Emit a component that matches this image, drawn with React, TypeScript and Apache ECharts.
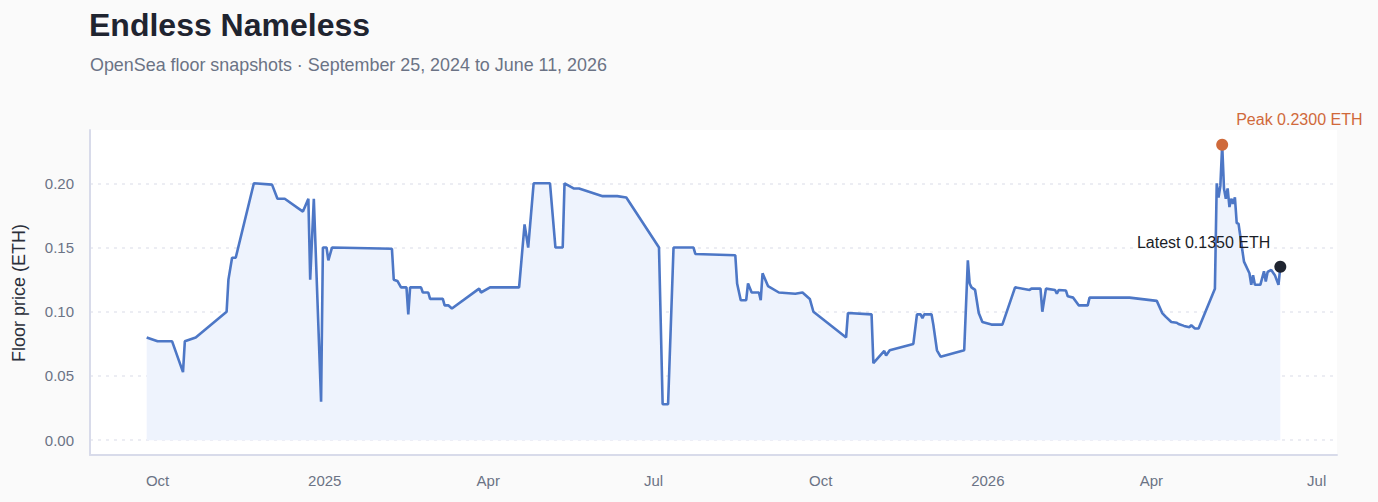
import React, { useEffect, useRef } from 'react';
import * as echarts from 'echarts';

const TITLE = 'Endless Nameless';
const SUBTITLE = 'OpenSea floor snapshots · September 25, 2024 to June 11, 2026';
const Y_NAME = 'Floor price (ETH)';
const MONTHS = ['Jan', 'Feb', 'Mar', 'Apr', 'May', 'Jun', 'Jul', 'Aug', 'Sep', 'Oct', 'Nov', 'Dec'];
const Y_TICKS = [0, 0.05, 0.1, 0.15, 0.2];

const dates = [
  '2024-09-25', '2024-10-01', '2024-10-09', '2024-10-15', '2024-10-16', '2024-10-22',
  '2024-11-08', '2024-11-09', '2024-11-11', '2024-11-13', '2024-11-23', '2024-12-03',
  '2024-12-06', '2024-12-10', '2024-12-20', '2024-12-23', '2024-12-24', '2024-12-26',
  '2024-12-30', '2024-12-31', '2025-01-02', '2025-01-03', '2025-01-05', '2025-02-07',
  '2025-02-08', '2025-02-10', '2025-02-12', '2025-02-15', '2025-02-16', '2025-02-17',
  '2025-02-23', '2025-02-24', '2025-02-27', '2025-02-28', '2025-03-07', '2025-03-08',
  '2025-03-10', '2025-03-12', '2025-03-27', '2025-03-28', '2025-04-02', '2025-04-18',
  '2025-04-21', '2025-04-23', '2025-04-26', '2025-05-05', '2025-05-08', '2025-05-12',
  '2025-05-13', '2025-05-18', '2025-05-21', '2025-06-03', '2025-06-11', '2025-06-16',
  '2025-07-04', '2025-07-06', '2025-07-09', '2025-07-12', '2025-07-23', '2025-07-24',
  '2025-08-15', '2025-08-16', '2025-08-18', '2025-08-21', '2025-08-22', '2025-08-24',
  '2025-08-28', '2025-08-29', '2025-08-30', '2025-09-02', '2025-09-08', '2025-09-17',
  '2025-09-21', '2025-09-25', '2025-09-27', '2025-10-15', '2025-10-16', '2025-10-29',
  '2025-10-30', '2025-11-05', '2025-11-06', '2025-11-08', '2025-11-21', '2025-11-23',
  '2025-11-25', '2025-11-26', '2025-11-27', '2025-12-01', '2025-12-02', '2025-12-04',
  '2025-12-06', '2025-12-19', '2025-12-21', '2025-12-22', '2025-12-23', '2025-12-25',
  '2025-12-27', '2025-12-29', '2026-01-03', '2026-01-09', '2026-01-16', '2026-01-24',
  '2026-01-25', '2026-01-30', '2026-01-31', '2026-02-02', '2026-02-07', '2026-02-08',
  '2026-02-09', '2026-02-13', '2026-02-14', '2026-02-17', '2026-02-20', '2026-02-25',
  '2026-02-26', '2026-03-20', '2026-04-04', '2026-04-07', '2026-04-09', '2026-04-12',
  '2026-04-15', '2026-04-16', '2026-04-19', '2026-04-22', '2026-04-23', '2026-04-25',
  '2026-04-27', '2026-05-06', '2026-05-07', '2026-05-08', '2026-05-09', '2026-05-10',
  '2026-05-11', '2026-05-12', '2026-05-13', '2026-05-14', '2026-05-15', '2026-05-16',
  '2026-05-17', '2026-05-18', '2026-05-19', '2026-05-22', '2026-05-25', '2026-05-26',
  '2026-05-27', '2026-05-28', '2026-05-31', '2026-06-02', '2026-06-03', '2026-06-04',
  '2026-06-06', '2026-06-08', '2026-06-10', '2026-06-11',
];

const floorPrices = [
  0.080, 0.077, 0.077, 0.053, 0.077, 0.080,
  0.100, 0.125, 0.142, 0.142, 0.200, 0.199,
  0.188, 0.188, 0.178, 0.188, 0.125, 0.188,
  0.030, 0.150, 0.150, 0.140, 0.150, 0.149,
  0.125, 0.124, 0.119, 0.119, 0.098, 0.119,
  0.119, 0.115, 0.115, 0.110, 0.110, 0.105,
  0.105, 0.1025, 0.118, 0.115, 0.119, 0.119,
  0.168, 0.150, 0.200, 0.200, 0.150, 0.150,
  0.200, 0.196, 0.196, 0.190, 0.190, 0.189,
  0.150, 0.028, 0.028, 0.150, 0.150, 0.145,
  0.144, 0.122, 0.109, 0.109, 0.122, 0.115,
  0.115, 0.109, 0.130, 0.120, 0.115, 0.114,
  0.115, 0.110, 0.100, 0.080, 0.099, 0.098,
  0.060, 0.0695, 0.066, 0.070, 0.075, 0.098,
  0.098, 0.095, 0.098, 0.098, 0.090, 0.070,
  0.065, 0.070, 0.140, 0.122, 0.119, 0.117,
  0.099, 0.092, 0.090, 0.090, 0.119, 0.117,
  0.118, 0.118, 0.100, 0.118, 0.117, 0.114,
  0.117, 0.1165, 0.112, 0.111, 0.105, 0.105,
  0.111, 0.111, 0.1085, 0.099, 0.096, 0.092,
  0.0915, 0.0905, 0.089, 0.088, 0.0895, 0.087,
  0.087, 0.118, 0.200, 0.189, 0.198, 0.230,
  0.196, 0.188, 0.196, 0.1815, 0.188, 0.184,
  0.189, 0.169, 0.1685, 0.139, 0.130, 0.121,
  0.1285, 0.121, 0.121, 0.1315, 0.1235, 0.131,
  0.1325, 0.1285, 0.121, 0.135,
];

const FONT = '"Liberation Sans", Arial, Helvetica, sans-serif';

export default function App() {
  const ref = useRef<HTMLDivElement>(null);

  useEffect(() => {
    if (!ref.current) return;
    const chart = echarts.init(ref.current, null, { renderer: 'svg' });

    const seriesData = dates.map((d, i) => [d, floorPrices[i]]);
    const t0 = new Date(dates[0]).getTime();
    const t1 = new Date(dates[dates.length - 1]).getTime();
    const pad = (t1 - t0) * 0.05;
    const maxVal = Math.max(...floorPrices);
    const peakIdx = floorPrices.indexOf(maxVal);
    const lastIdx = floorPrices.length - 1;
    const yPad = maxVal * 0.05;

    chart.setOption({
      animation: false,
      backgroundColor: '#fafafa',
      textStyle: { fontFamily: FONT },
      graphic: [
        {
          type: 'text', left: 89, top: 9,
          style: { text: TITLE, font: `bold 32px ${FONT}`, fill: '#1f2430' },
        },
        {
          type: 'text', left: 90, top: 56,
          style: { text: SUBTITLE, font: `17.9px ${FONT}`, fill: '#6b7385' },
        },
        {
          type: 'text', x: 19, y: 293, rotation: Math.PI / 2,
          style: { text: Y_NAME, font: `18px ${FONT}`, fill: '#2b2f3a', align: 'center', verticalAlign: 'middle' },
        },
      ],
      grid: {
        left: 90, right: 41, top: 130, bottom: 47,
        show: true, backgroundColor: '#ffffff', borderWidth: 0,
      },
      xAxis: {
        type: 'time',
        min: t0 - pad,
        max: t1 + pad,
        splitNumber: 7,
        axisLine: { show: true, onZero: false, lineStyle: { color: '#d8dbea', width: 2 } },
        axisTick: { show: false },
        splitLine: { show: false },
        axisLabel: {
          color: '#6b7385', fontSize: 15, margin: 18, fontFamily: FONT,
          formatter: (v: number) => {
            const d = new Date(v);
            return d.getMonth() === 0 ? String(d.getFullYear()) : MONTHS[d.getMonth()];
          },
        },
      },
      yAxis: {
        type: 'value',
        min: -yPad,
        max: maxVal + yPad,
        splitNumber: 5,
        minInterval: Y_TICKS[1] - Y_TICKS[0],
        maxInterval: Y_TICKS[1] - Y_TICKS[0],
        axisLine: { show: true, lineStyle: { color: '#d8dbea', width: 2 } },
        axisTick: { show: false },
        axisLabel: {
          color: '#6b7385', fontSize: 15, margin: 16, fontFamily: FONT,
          showMinLabel: false, showMaxLabel: false,
          formatter: (v: number) => v.toFixed(2),
        },
        splitLine: {
          show: true, showMinLine: false, showMaxLine: false,
          lineStyle: { color: '#e6e8f0', type: [3, 5], width: 1.5 },
        },
      },
      series: [
        {
          type: 'line',
          data: seriesData,
          showSymbol: false,
          symbol: 'none',
          lineStyle: { color: '#4d77c6', width: 2.6 },
          areaStyle: { color: '#eef3fd', opacity: 1 },
          z: 2,
        },
        {
          type: 'scatter',
          data: [[dates[peakIdx], maxVal]],
          symbolSize: 12,
          itemStyle: { color: '#cf6a3b', opacity: 1 },
          z: 5,
          label: {
            show: true,
            position: [20, -19],
            align: 'left',
            verticalAlign: 'middle',
            formatter: `Peak ${maxVal.toFixed(4)} ETH`,
            color: '#d0693a',
            fontSize: 16,
            fontFamily: FONT,
          },
        },
        {
          type: 'scatter',
          data: [[dates[lastIdx], floorPrices[lastIdx]]],
          symbolSize: 12,
          itemStyle: { color: '#1f2430', opacity: 1 },
          z: 5,
          label: {
            show: true,
            position: [-4, -18],
            align: 'right',
            verticalAlign: 'middle',
            formatter: `Latest ${floorPrices[lastIdx].toFixed(4)} ETH`,
            color: '#1a1d26',
            fontSize: 16,
            fontFamily: FONT,
          },
        },
      ],
    });

    return () => chart.dispose();
  }, []);

  return (
    <div
      ref={ref}
      style={{ position: 'fixed', left: 0, top: 0, width: 1378, height: 502, background: '#fafafa' }}
    />
  );
}
